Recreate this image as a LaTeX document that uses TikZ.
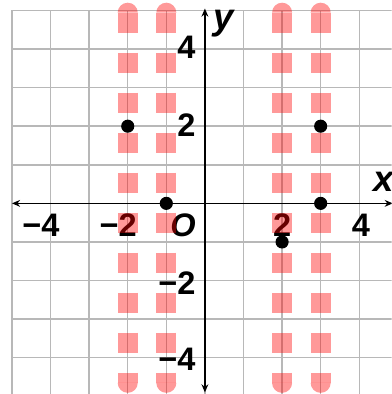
\documentclass[tikz,border=0pt]{standalone}
\usepackage{fontspec}
\setmainfont{Liberation Sans}
\usetikzlibrary{arrows.meta}
\begin{document}
\begin{tikzpicture}[
  gridline/.style={black!28, line width=1.1pt},
  axis/.style={line width=1.2pt, {Stealth[length=6pt,width=5pt]}-{Stealth[length=6pt,width=5pt]}},
  band/.style={red, opacity=0.4, line width=0.52cm, dash pattern=on 0.518cm off 0.518cm},
  bandcap/.style={fill=red, fill opacity=0.4},
  lbl/.style={font=\fontsize{24}{24}\selectfont\bfseries, inner sep=0pt},
  varlbl/.style={font=\fontsize{27}{27}\selectfont\bfseries\itshape, inner sep=0pt},
  dot/.style={circle, fill=black, inner sep=0pt, minimum size=0.34cm}
]
\clip (-5.31,-4.94) rectangle (4.84,5.27);
\draw[gridline] (-5,-5) grid (5,5);
\draw[axis] (-5,0) -- (4.87,0);
\draw[axis] (0,-4.9) -- (0,5.05);
% labels on the axes
\node[lbl] (xm4) at (-4,-0.56) {\llap{−}4};
\node[lbl] (xm2) at (-2,-0.56) {\llap{−}2};
\node[lbl] (orig) at (-0.57,-0.56) {\itshape O};
\node[lbl] (xp2) at (2,-0.56) {2};
\node[lbl] (xp4) at (4.04,-0.56) {4};
\node[lbl, anchor=east] (yp4) at (-0.24,4.05) {4};
\node[lbl, anchor=east] (yp2) at (-0.24,2.03) {2};
\node[lbl, anchor=east] (ym2) at (-0.24,-2.07) {−2};
\node[lbl, anchor=east] (ym4) at (-0.24,-4.05) {−4};
\node[varlbl] (xlab) at (4.62,0.56) {x};
\node[varlbl] (ylab) at (0.49,4.67) {y};
% dashed red bands
\foreach \bx in {-2,-1,2,3} {
  \draw[band] (\bx,4.94) -- (\bx,-4.65);
  \fill[bandcap] (\bx+0.26,4.94) arc (0:180:0.26) -- cycle;
  \fill[bandcap] (\bx-0.26,-4.65) arc (180:360:0.26) -- cycle;
}
\foreach \px/\py [count=\i] in {-2/2,-1/0,2/-1,3/0,3/2}
  \node[dot] (pt\i) at (\px,\py) {};
\end{tikzpicture}
\end{document}
